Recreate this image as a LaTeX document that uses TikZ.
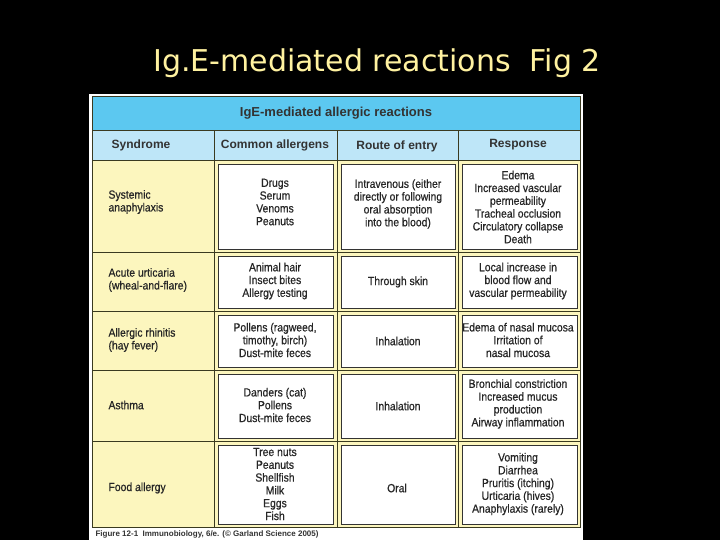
\documentclass[tikz,border=0pt]{standalone}
\usepackage{fontspec}
\setmainfont{Liberation Sans}
\newfontfamily\cellfont[FakeStretch=0.88,FakeBold=0.6]{Liberation Sans}
\newfontfamily\titlefont{DejaVu Sans}
\begin{document}
\begin{tikzpicture}[x=1pt,y=-1pt,
  cellbox/.style={draw=black!80,line width=1pt,fill=white},
  celltxt/.style={align=center,font=\cellfont\fontsize{11.8}{12.8}\selectfont,text=black!85},
  lefttxt/.style={align=left,anchor=west,font=\cellfont\fontsize{11.8}{12.8}\selectfont,text=black!85},
  hdr/.style={font=\fontsize{12}{13}\selectfont\bfseries,text=black!80}]
\definecolor{band}{HTML}{5CC8F0}
\definecolor{hband}{HTML}{BEE6F8}
\definecolor{pale}{HTML}{FCF6BE}
\definecolor{ttl}{HTML}{FFF2A0}
\definecolor{grid}{HTML}{3A3A20}
\fill[black] (0,0) rectangle (720,540);
\node[font=\titlefont\fontsize{30}{32}\selectfont,text=ttl] (title) at (377,63) {Ig.E-mediated reactions\ \ Fig 2};
\fill[white] (89,94) rectangle (583,540);
\fill[band] (92,96) rectangle (580,130);
\fill[hband] (92,131) rectangle (580,160);
\fill[pale] (92,161) rectangle (580,527);
\draw[grid,line width=0.8pt] (92,96) rectangle (580,527);
\foreach \y in {130,160,252,311,370,441} \draw[grid,line width=0.8pt] (92,\y) -- (580,\y);
\foreach \x in {214,337,458} \draw[grid,line width=0.8pt] (\x,130) -- (\x,527);
\node[hdr,font=\fontsize{13}{14}\selectfont\bfseries] (t) at (336,113) {IgE-mediated allergic reactions};
\node[hdr] (h1) at (141,145) {Syndrome};
\node[hdr] (h2) at (275,145) {Common allergens};
\node[hdr] (h3) at (397,146) {Route of entry};
\node[hdr] (h4) at (518,145) {Response};
% inner boxes
\foreach \a/\b in {164/249,256/308,315/367,374/438,445/524}{
  \foreach \l/\r in {218/333,341/455,462/577}{
    \draw[cellbox] (\l,\a) rectangle (\r,\b);}}
% syndromes
\node[lefttxt] (s1) at (105,202) {Systemic\\anaphylaxis};
\node[lefttxt] (s2) at (105,280) {Acute urticaria\\(wheal-and-flare)};
\node[lefttxt] (s3) at (105,340) {Allergic rhinitis\\(hay fever)};
\node[lefttxt] (s4) at (105,405) {Asthma};
\node[lefttxt] (s5) at (105,488) {Food allergy};
% allergens
\node[celltxt] (a1) at (275,202) {Drugs\\Serum\\Venoms\\Peanuts};
\node[celltxt] (a2) at (275,281) {Animal hair\\Insect bites\\Allergy testing};
\node[celltxt] (a3) at (275,340) {Pollens (ragweed,\\timothy, birch)\\Dust-mite feces};
\node[celltxt] (a4) at (275,405) {Danders (cat)\\Pollens\\Dust-mite feces};
\node[celltxt] (a5) at (275,484) {Tree nuts\\Peanuts\\Shellfish\\Milk\\Eggs\\Fish};
% route
\node[celltxt] (r1) at (398,204) {Intravenous (either\\directly or following\\oral absorption\\into the blood)};
\node[celltxt] (r2) at (398,282) {Through skin};
\node[celltxt] (r3) at (398,341) {Inhalation};
\node[celltxt] (r4) at (398,406) {Inhalation};
\node[celltxt] (r5) at (397,488) {Oral};
% response
\node[celltxt] (p1) at (518,207) {Edema\\Increased vascular\\permeability\\Tracheal occlusion\\Circulatory collapse\\Death};
\node[celltxt] (p2) at (518,281) {Local increase in\\blood flow and\\vascular permeability};
\node[celltxt] (p3) at (518,340) {Edema of nasal mucosa\\Irritation of\\nasal mucosa};
\node[celltxt] (p4) at (518,404) {Bronchial constriction\\Increased mucus\\production\\Airway inflammation};
\node[celltxt] (p5) at (518,484) {Vomiting\\Diarrhea\\Pruritis (itching)\\Urticaria (hives)\\Anaphylaxis (rarely)};
\node[anchor=west,font=\fontsize{8}{9}\selectfont\bfseries,text=black!80] (cap) at (92,534) {Figure 12-1\ \ Immunobiology, 6/e. (© Garland Science 2005)};
\end{tikzpicture}
\end{document}
